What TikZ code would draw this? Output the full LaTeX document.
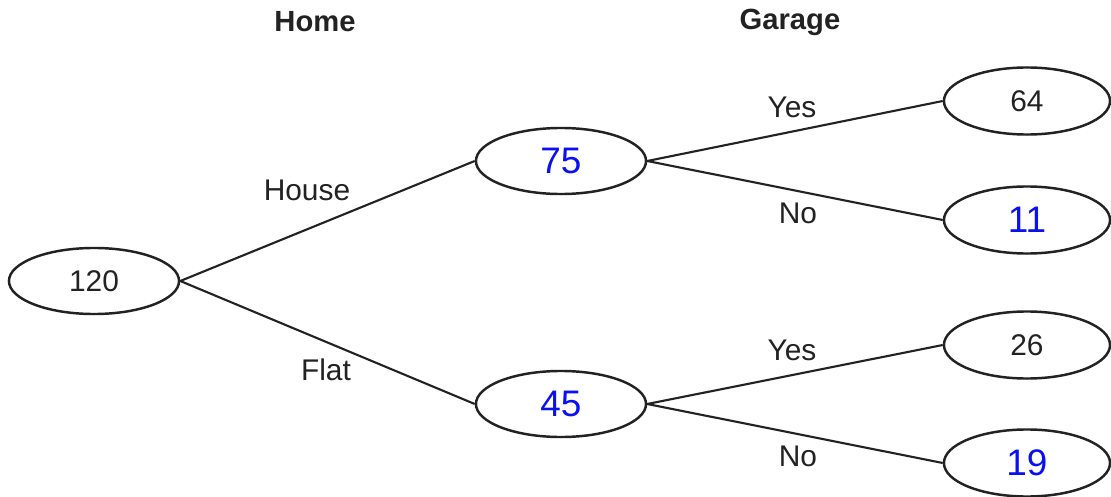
\documentclass[tikz,border=0pt]{standalone}
\usepackage{fontspec}
\setmainfont{Liberation Sans}
\usetikzlibrary{shapes.geometric}
\definecolor{ink}{HTML}{222222}
\definecolor{hand}{HTML}{0A10F0}
\begin{document}
\begin{tikzpicture}[x=0.01cm,y=-0.01cm,
  oval/.style={ellipse,draw=ink,line width=0.7pt,minimum width=1.7cm,minimum height=0.66cm,inner sep=0pt,text=ink,font=\fontsize{8.5}{10}\selectfont},
  leaf/.style={oval,minimum width=1.66cm,minimum height=0.67cm},
  handnum/.style={text=hand,font=\fontsize{10.5}{12}\selectfont},
  edge/.style={draw=ink,line width=0.6pt},
  lbl/.style={text=ink,font=\fontsize{8.5}{10}\selectfont,inner sep=0pt},
  hdr/.style={text=ink,font=\fontsize{8.3}{10}\selectfont\bfseries,inner sep=0pt}]
\useasboundingbox (0,0) rectangle (1111,497);
\node[hdr] (home) at (315,22) {Home};
\node[hdr] (garage) at (790,22) {Garage};
\node[oval] (root) at (94,281) {120};
\node[oval,handnum] (house) at (561,161) {75};
\node[oval,handnum] (flat) at (561,404) {45};
\node[leaf] (hy) at (1027,101) {64};
\node[leaf,handnum] (hn) at (1027,220) {11};
\node[leaf] (fy) at (1027,345) {26};
\node[leaf,handnum] (fn) at (1027,463) {19};
\draw[edge] (root.east) -- (house.west);
\draw[edge] (root.east) -- (flat.west);
\draw[edge] (house.east) -- (hy.west);
\draw[edge] (house.east) -- (hn.west);
\draw[edge] (flat.east) -- (fy.west);
\draw[edge] (flat.east) -- (fn.west);
\node[lbl] (lhouse) at (307,190) {House};
\node[lbl] (lflat) at (326,370) {Flat};
\node[lbl] (lhy) at (792,107) {Yes};
\node[lbl] (lhn) at (798,213) {No};
\node[lbl] (lfy) at (792,350) {Yes};
\node[lbl] (lfn) at (798,456) {No};
\end{tikzpicture}
\end{document}
